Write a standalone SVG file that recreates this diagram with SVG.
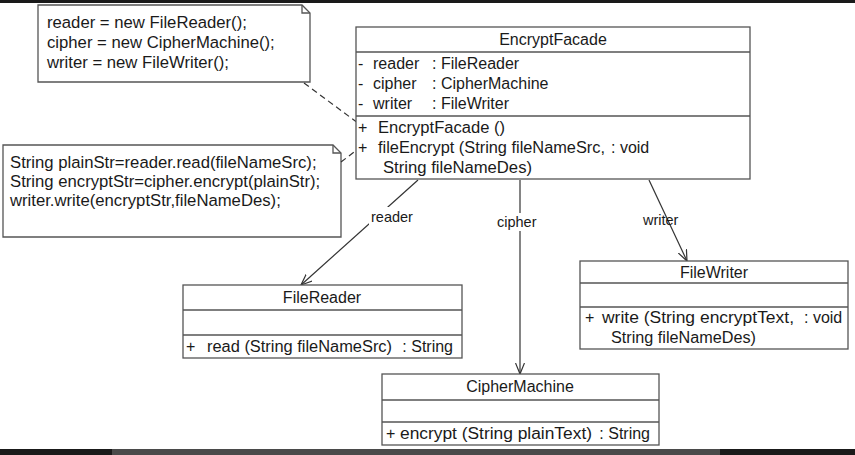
<svg xmlns="http://www.w3.org/2000/svg" width="855" height="455" viewBox="0 0 855 455">
<defs>
<marker id="open" viewBox="0 0 12 10" markerWidth="12" markerHeight="10" refX="11" refY="5" orient="auto" markerUnits="userSpaceOnUse">
<path d="M0,0.5 L11,5 L0,9.5" fill="none" stroke="#333" stroke-width="1.2"/>
</marker>
</defs>
<style>
text{font-family:"Liberation Sans",Arial,sans-serif;font-size:16px;fill:#1a1a1a}
.box{fill:#fff;stroke:#555;stroke-width:1.3}
.div{stroke:#555;stroke-width:1.3;fill:none}
.note{fill:#fff;stroke:#555;stroke-width:1.3}
.nt{font-size:16.7px}
.lbl{font-size:14.5px}
.conn{stroke:#333;stroke-width:1.2;fill:none}
.dash{stroke:#333;stroke-width:1.2;fill:none;stroke-dasharray:6,4}
.mid{text-anchor:middle}
.end{text-anchor:end}
</style>
<rect x="0" y="0" width="855" height="455" fill="#fff"/>
<rect x="0" y="0" width="855" height="3" fill="#1a1a1a"/>
<rect x="0" y="449" width="855" height="6" fill="#1a1a1a"/>
<rect x="112" y="449" width="608" height="6" fill="#4a4a4a"/>

<g id="note1">
<path class="note" d="M38,5 L302,5 L310,13 L310,82 L38,82 Z"/>
<path class="div" d="M302,5 L302,13 L310,13"/>
<text class="nt" x="47" y="28">reader = new FileReader();</text>
<text class="nt" x="47" y="48">cipher = new CipherMachine();</text>
<text class="nt" x="47" y="68">writer = new FileWriter();</text>
</g>

<g id="note2">
<path class="note" d="M3,145 L333,145 L341,153 L341,237 L3,237 Z"/>
<path class="div" d="M333,145 L333,153 L341,153"/>
<text class="nt" x="10" y="168">String plainStr=reader.read(fileNameSrc);</text>
<text class="nt" x="10" y="187">String encryptStr=cipher.encrypt(plainStr);</text>
<text class="nt" x="10" y="206">writer.write(encryptStr,fileNameDes);</text>
</g>

<g id="connectors">
<line class="dash" x1="304" y1="83" x2="366" y2="129"/>
<line class="dash" x1="341" y1="162" x2="366" y2="143"/>
<line class="conn" x1="418" y1="180" x2="301" y2="285" marker-end="url(#open)"/>
<line class="conn" x1="520" y1="180" x2="520" y2="374" marker-end="url(#open)"/>
<line class="conn" x1="649" y1="180" x2="687" y2="261" marker-end="url(#open)"/>
<rect x="369" y="207" width="46" height="18" fill="#fff"/>
<text class="lbl" x="371" y="222">reader</text>
<rect x="495" y="213" width="45" height="18" fill="#fff"/>
<text class="lbl" x="497" y="227">cipher</text>
<text class="lbl" x="643" y="225">writer</text>
</g>

<g id="EncryptFacade">
<rect class="box" x="356" y="27" width="394" height="152"/>
<line class="div" x1="356" y1="52" x2="750" y2="52"/>
<line class="div" x1="356" y1="116" x2="750" y2="116"/>
<text class="mid" x="553" y="45">EncryptFacade</text>
<text x="358" y="69">-</text><text x="373" y="69">reader</text><text x="432" y="69">: FileReader</text>
<text x="358" y="89">-</text><text x="373" y="89">cipher</text><text x="432" y="89">: CipherMachine</text>
<text x="358" y="109">-</text><text x="373" y="109">writer</text><text x="432" y="109">: FileWriter</text>
<text x="358" y="133">+</text><text x="378" y="133" textLength="127" lengthAdjust="spacingAndGlyphs">EncryptFacade ()</text>
<text x="358" y="153">+</text><text x="378" y="153" textLength="227" lengthAdjust="spacingAndGlyphs">fileEncrypt (String fileNameSrc,</text><text x="611" y="153">: void</text>
<text x="383" y="173" textLength="149" lengthAdjust="spacingAndGlyphs">String fileNameDes)</text>
</g>

<g id="FileReader">
<rect class="box" x="183" y="285" width="279" height="73"/>
<line class="div" x1="183" y1="310" x2="462" y2="310"/>
<line class="div" x1="183" y1="335" x2="462" y2="335"/>
<text class="mid" x="322" y="303">FileReader</text>
<text x="186" y="352">+</text><text x="207" y="352" textLength="185" lengthAdjust="spacingAndGlyphs">read (String fileNameSrc)</text><text class="end" x="453" y="352">: String</text>
</g>

<g id="FileWriter">
<rect class="box" x="580" y="261" width="268" height="88"/>
<line class="div" x1="580" y1="283" x2="848" y2="283"/>
<line class="div" x1="580" y1="307" x2="848" y2="307"/>
<text class="mid" x="714" y="278">FileWriter</text>
<text x="585" y="323">+</text><text x="602" y="323" textLength="192" lengthAdjust="spacingAndGlyphs">write (String encryptText,</text><text x="804" y="323">: void</text>
<text x="611" y="343" textLength="145" lengthAdjust="spacingAndGlyphs">String fileNameDes)</text>
</g>

<g id="CipherMachine">
<rect class="box" x="382" y="374" width="277" height="71"/>
<line class="div" x1="382" y1="400" x2="659" y2="400"/>
<line class="div" x1="382" y1="422" x2="659" y2="422"/>
<text class="mid" x="520" y="392">CipherMachine</text>
<text x="386" y="439">+</text><text x="400" y="439" textLength="192" lengthAdjust="spacingAndGlyphs">encrypt (String plainText)</text><text class="end" x="650" y="439">: String</text>
</g>
</svg>
